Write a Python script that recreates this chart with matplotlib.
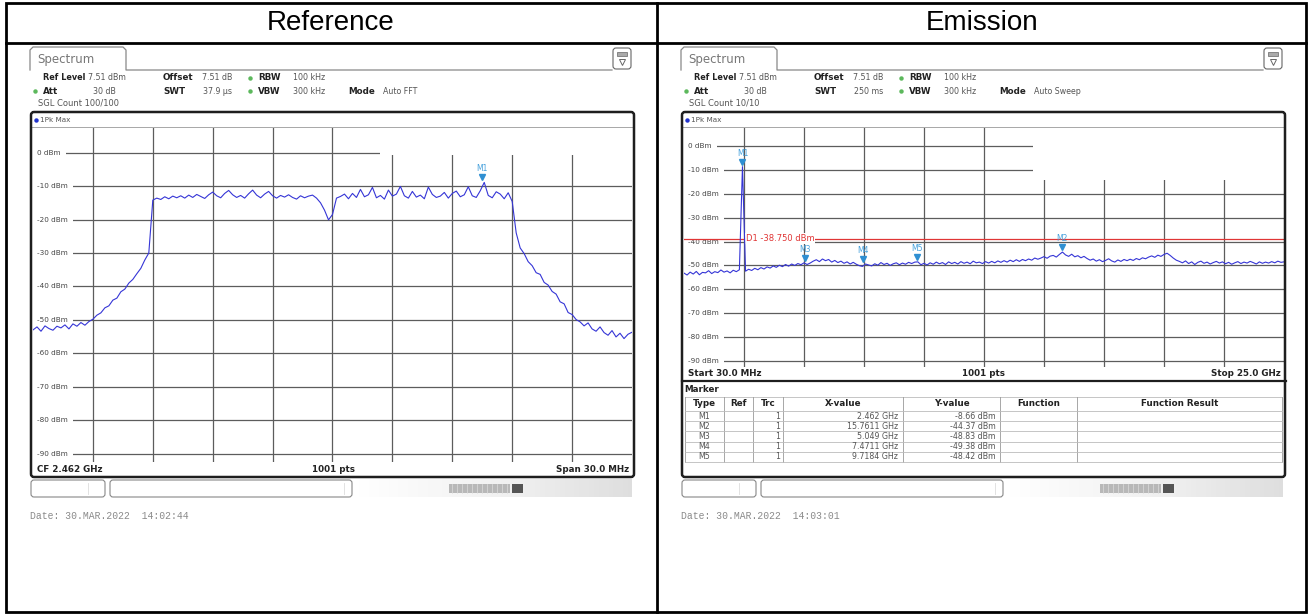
import numpy as np
import matplotlib.pyplot as plt
from matplotlib.patches import Rectangle, FancyBboxPatch
from matplotlib.transforms import offset_copy, blended_transform_factory

plt.rcParams['font.family'] = ['DejaVu Sans']

W, H = 1311, 615

ref_level = 7.51
grid_dbm = [0, -10, -20, -30, -40, -50, -60, -70, -80, -90]
grid_labels = ['0 dBm', '-10 dBm', '-20 dBm', '-30 dBm', '-40 dBm',
               '-50 dBm', '-60 dBm', '-70 dBm', '-80 dBm', '-90 dBm']

# left screen: CF 2.462 GHz, span 30 MHz (trace, -15..+15 MHz)
ref_cf_ghz = 2.462
ref_span_mhz = 30.0
ref_trace_dbm = [
    -53.0, -52.1, -53.4, -51.8, -52.6, -53.1, -51.9, -52.4, -51.5, -52.7, -51.2, -51.9, -50.8, -51.6, -50.5, -49.8,
    -48.6, -47.9, -46.4, -45.8, -44.1, -43.5, -41.6, -40.8, -39.0, -37.9, -36.2, -34.6, -32.1, -30.0,
    -14.2, -13.6, -14.0, -13.2, -13.8, -13.0, -13.5, -12.9, -13.6, -12.7, -13.4, -12.5, -13.1, -13.7, -12.6,
    -11.8, -12.9, -13.5, -12.2, -11.3, -12.6, -13.4, -12.8, -13.6, -12.3, -11.2, -12.7, -13.5, -12.4, -11.6,
    -12.9, -13.6, -12.8, -13.3, -12.6, -13.4, -13.9, -12.9, -13.5, -13.0, -12.7, -13.6, -15.0, -17.2, -20.1,
    -18.5, -13.6, -13.1, -12.4, -13.8, -12.2, -13.4, -11.0, -13.2, -12.6, -10.4, -13.5, -12.8, -13.9, -11.2,
    -13.0, -12.4, -10.1, -12.9, -13.6, -11.6, -13.3, -12.7, -13.8, -10.3, -12.5, -13.4, -13.0, -11.9, -13.6,
    -12.2, -11.5, -13.2, -12.6, -10.2, -12.9, -13.4, -11.4, -8.9, -12.8, -13.5, -11.7, -12.4, -13.8, -12.0, -14.6,
    -24.0, -28.5, -30.2, -32.6, -33.8, -35.9, -36.4, -38.8, -39.6, -41.5,
    -42.3, -44.6, -45.2, -47.8, -48.4, -49.9, -50.6, -51.8, -50.9, -52.7,
    -53.4, -52.1, -53.8, -54.6, -53.2, -55.1, -54.0, -55.6, -54.3, -53.7,
]
ref_marker_ghz = 2.4694930
ref_marker_dbm = -8.75

# right screen: 30 MHz .. 25 GHz
emi_start_ghz = 0.03
emi_stop_ghz = 25.0
emi_trace_dbm = [
    -53.2, -54.0, -52.8, -53.6, -52.5, -53.9, -52.9, -53.1, -52.2, -53.4, -52.6, -53.0, -51.9, -52.8, -52.3, -53.1, -52.0, -52.6, -51.8,
    -8.66,
    -52.4, -51.6, -52.1, -51.2, -51.8, -50.9, -51.5, -50.6, -51.1, -50.2, -50.8, -49.9, -50.5, -49.6, -50.3, -49.4, -50.0, -49.2, -49.7, -48.9,
    -49.6, -49.0, -48.2, -47.6, -48.4, -47.3, -48.0, -47.5, -48.6, -47.9, -48.8, -48.2, -49.1, -48.5, -49.4, -48.7, -49.5, -50.1,
    -50.4, -49.4, -49.8, -50.2, -49.3, -49.9, -48.8, -49.6, -49.1, -50.0, -49.3, -48.9, -49.7, -49.0, -49.5, -48.7, -49.2, -48.6,
    -48.5, -49.7, -49.1, -49.8, -48.9, -49.5, -48.6, -49.3, -48.8, -49.6, -48.5, -49.2, -48.7, -49.4, -48.4, -49.1, -48.6, -49.3, -48.2, -48.9,
    -48.6, -49.2, -48.4, -49.0, -48.3, -48.9, -48.1, -48.7, -48.0, -48.6, -47.8, -48.4, -47.6, -48.3, -47.5, -48.0, -47.3, -47.8, -46.9, -47.4,
    -46.9, -46.3, -47.0, -46.1, -45.8, -46.5, -45.4, -44.4, -45.6, -46.2, -45.3, -46.4, -45.9, -46.8, -46.2,
    -47.1, -47.8, -47.3, -48.2, -47.6, -48.4, -47.9, -47.2, -48.1, -48.6, -47.7, -48.3, -47.5, -48.0, -47.4, -47.9, -47.1, -47.6, -46.8, -47.2,
    -46.5, -46.0, -46.6, -45.7, -46.2, -45.4, -44.9, -45.8, -46.9, -47.8,
    -48.3, -48.9, -48.1, -49.2, -48.5, -49.6, -48.7, -48.2, -49.1, -48.6, -49.4, -48.8, -48.3, -49.0, -48.5, -49.3, -48.7, -49.5,
    -48.9, -48.4, -49.2, -48.6, -49.0, -48.3, -48.8, -49.4, -48.5, -49.1, -48.6, -49.0, -48.4, -48.9, -48.2, -48.7, -48.5,
]
marker_names = ['M1', 'M2', 'M3', 'M4', 'M5']
marker_ghz = [2.462, 15.7611, 5.049, 7.4711, 9.7184]
marker_dbm = [-8.66, -44.37, -48.83, -49.38, -48.42]
d1_dbm = -38.75

TRACE = '#3535d6'
MK = '#2f8fd2'
MKTXT = '#45a0dc'
GRID = '#5c5c5c'

fig = plt.figure(figsize=(W / 100, H / 100), dpi=100)
ax0 = fig.add_axes([0, 0, 1, 1])
ax0.set_xlim(0, W)
ax0.set_ylim(H, 0)
ax0.axis('off')

# outer table
ax0.add_patch(Rectangle((6, 3), 1300, 609, fill=False, ec='black', lw=2))
ax0.plot([6, 1306], [43, 43], color='black', lw=2)
ax0.plot([657, 657], [3, 612], color='black', lw=2)
ax0.text(331, 23, 'Reference', fontsize=20, ha='center', va='center', family='Liberation Sans')
ax0.text(982, 23, 'Emission', fontsize=20, ha='center', va='center', family='Liberation Sans')


def bold(x, y, s, size=6.3, **kw):
    ax0.text(x, y, s, fontsize=size, fontweight='bold', color='#222', va='center', **kw)


def val(x, y, s, **kw):
    ax0.text(x, y, s, fontsize=5.7, color='#555', va='center', **kw)


def dot(x, y, c='#5cb85c'):
    ax0.plot([x], [y], marker='o', ms=3.2, color=c, mec='none')


def chrome(ox, swt, mode, count, date):
    # tab + icon
    ax0.plot(np.array([30, 30, 33, 123, 126, 126, 612]) + ox, [70, 50, 47, 47, 50, 70, 70], color='#888', lw=0.9)
    ax0.text(37 + ox, 59, 'Spectrum', fontsize=8.5, color='#777', va='center')
    ax0.add_patch(FancyBboxPatch((613 + ox, 48), 18, 21, boxstyle='round,pad=0,rounding_size=3',
                                 fc='white', ec='#666', lw=0.8))
    ax0.add_patch(Rectangle((617 + ox, 52), 10, 4, fc='#aaa', ec='#666', lw=0.5))
    ax0.plot([622 + ox], [61.5], marker='v', ms=5, mfc='white', mec='#666', mew=0.7)
    # settings
    bold(43 + ox, 78, 'Ref Level', size=5.9)
    val(88 + ox, 78, '7.51 dBm')
    bold(163 + ox, 78, 'Offset')
    val(202 + ox, 78, '7.51 dB')
    dot(250 + ox, 78)
    bold(258 + ox, 78, 'RBW')
    val(293 + ox, 78, '100 kHz')
    dot(35 + ox, 91)
    bold(43 + ox, 91, 'Att')
    val(116 + ox, 91, '30 dB', ha='right')
    bold(163 + ox, 91, 'SWT')
    val(203 + ox, 91, swt)
    dot(250 + ox, 91)
    bold(258 + ox, 91, 'VBW')
    val(293 + ox, 91, '300 kHz')
    bold(348 + ox, 91, 'Mode')
    val(383 + ox, 91, mode)
    ax0.text(38 + ox, 103.5, count, fontsize=6, color='#555', va='center')
    ax0.plot([31 + ox, 634 + ox], [127, 127], color='#999', lw=0.6)
    dot(36 + ox, 119.5, '#2233cc')
    ax0.text(40 + ox, 119.5, '1Pk Max', fontsize=5.2, color='#555', va='center')
    # bottom bar
    ax0.add_patch(FancyBboxPatch((31 + ox, 480), 74, 17, boxstyle='round,pad=0,rounding_size=3',
                                 fc='white', ec='#888', lw=0.8))
    ax0.plot([88 + ox, 88 + ox], [483, 494], color='#ddd', lw=0.6)
    ax0.add_patch(FancyBboxPatch((110 + ox, 480), 242, 17, boxstyle='round,pad=0,rounding_size=3',
                                 fc='white', ec='#888', lw=0.8))
    ax0.plot([344 + ox, 344 + ox], [483, 494], color='#ddd', lw=0.6)
    ax0.imshow(np.linspace(0.0, 0.22, 60)[None, :], extent=(352 + ox, 632 + ox, 497, 479), cmap='Greys',
               vmin=0, vmax=1, aspect='auto', interpolation='bilinear')
    ax0.add_patch(Rectangle((449 + ox, 484), 61, 9, fc='#b8b8b8', ec='none'))
    for k in range(12):
        ax0.plot([452 + ox + 5 * k] * 2, [484, 493], color='#ddd', lw=0.5)
    ax0.add_patch(Rectangle((512 + ox, 484), 11, 9, fc='#555', ec='none'))
    ax0.text(30 + ox, 516, date, fontsize=7, color='#8a8a8a', va='center', family='Liberation Mono')


chrome(0, '37.9 µs', 'Auto FFT', 'SGL Count 100/100', 'Date: 30.MAR.2022  14:02:44')
chrome(651, '250 ms', 'Auto Sweep', 'SGL Count 10/10', 'Date: 30.MAR.2022  14:03:01')
ax0.set_xlim(0, W)
ax0.set_ylim(H, 0)


def screen_axes(x0, y0, x1, y1, xmin, xmax, box_x, box_y):
    ax = fig.add_axes([x0 / W, 1 - y1 / H, (x1 - x0) / W, (y1 - y0) / H])
    ax.set_xlim(xmin, xmax)
    ax.set_ylim(ref_level - 100, ref_level)
    ax.axis('off')
    for k in range(1, 10):
        ax.axvline(xmin + (xmax - xmin) * k / 10, color=GRID, lw=0.9, zorder=1)
    for lev, lab in zip(grid_dbm, grid_labels):
        ax.axhline(lev, color=GRID, lw=0.9, zorder=1)
        ax.text(0.007, lev, lab, transform=ax.get_yaxis_transform(), fontsize=5.2, color='#444',
                va='center', ha='left', zorder=2,
                bbox=dict(fc='white', ec='none', boxstyle='square,pad=0.75'))
    # marker info field covers part of the grid
    ax.add_patch(Rectangle((box_x, box_y), 1 - box_x, 1 - box_y, transform=ax.transAxes,
                           fc='white', ec='none', zorder=1.5))
    return ax


def marker(ax, name, x, y):
    tr = offset_copy(ax.transData, fig=fig, x=0, y=3.5, units='points')
    ax.plot([x], [y], marker='v', ms=4.5, color=MK, transform=tr, zorder=4, clip_on=False)
    ax.annotate(name, (x, y), xytext=(0, 6.5), textcoords='offset points', ha='center', va='bottom',
                fontsize=5.5, color=MKTXT, zorder=4)


# left screen
ax_l = screen_axes(33, 127.5, 632, 462, ref_cf_ghz - ref_span_mhz / 2000, ref_cf_ghz + ref_span_mhz / 2000,
                   0.579, 0.918)
ref_x = ref_cf_ghz + np.linspace(-ref_span_mhz / 2, ref_span_mhz / 2, len(ref_trace_dbm)) / 1000
ax_l.plot(ref_x, ref_trace_dbm, color=TRACE, lw=0.8, zorder=3)
marker(ax_l, 'M1', ref_marker_ghz, ref_marker_dbm)

ax0.text(380, 136, 'M1[1]', fontsize=7, color=MKTXT, va='center')
ax0.text(631, 135, f'{ref_marker_dbm:.2f} dBm', fontsize=7, color=MKTXT, va='center', ha='right')
ax0.text(631, 146, f'{ref_marker_ghz:.7f} GHz', fontsize=7, color=MKTXT, va='center', ha='right')
bold(37, 469, 'CF 2.462 GHz')
bold(333, 469, '1001 pts', ha='center')
bold(629, 469, 'Span 30.0 MHz', ha='right')

# right screen
ax_r = screen_axes(684, 128, 1284, 367, emi_start_ghz, emi_stop_ghz, 0.582, 0.782)
emi_x = np.linspace(emi_start_ghz, emi_stop_ghz, len(emi_trace_dbm))
ax_r.axhline(d1_dbm, color='#e03535', lw=0.9, zorder=2.5)
ax_r.text(0.103, d1_dbm, f'D1 {d1_dbm:.3f} dBm', transform=blended_transform_factory(ax_r.transAxes, ax_r.transData),
          fontsize=6, color='#e03535', va='center', zorder=2.6,
          bbox=dict(fc='white', ec='none', boxstyle='square,pad=0.1'))
ax_r.plot(emi_x, emi_trace_dbm, color=TRACE, lw=0.8, zorder=3)
for name, x, y in zip(marker_names, marker_ghz, marker_dbm):
    marker(ax_r, name, x, y)

ax0.text(1033, 135, 'M1[1]', fontsize=7, color=MKTXT, va='center')
ax0.text(1033, 155, 'M2[1]', fontsize=7, color=MKTXT, va='center')
ax0.text(1283, 135, f'{marker_dbm[0]:.2f} dBm', fontsize=7, color=MKTXT, va='center', ha='right')
ax0.text(1283, 145, f'{marker_ghz[0]:.4f} GHz', fontsize=7, color=MKTXT, va='center', ha='right')
ax0.text(1283, 155, f'{marker_dbm[1]:.2f} dBm', fontsize=7, color=MKTXT, va='center', ha='right')
ax0.text(1283, 165, f'{marker_ghz[1]:.4f} GHz', fontsize=7, color=MKTXT, va='center', ha='right')
bold(688, 374, 'Start 30.0 MHz')
bold(984, 374, '1001 pts', ha='center')
bold(1281, 374, 'Stop 25.0 GHz', ha='right')

# marker table
bold(684, 389, 'Marker')
cols = [685, 724, 753, 783, 903, 1000, 1077, 1282]
heads = ['Type', 'Ref', 'Trc', 'X-value', 'Y-value', 'Function', 'Function Result']
row_top = 411
row_h = 10.2
ax0.plot([685, 1282], [397, 397], color='#bbb', lw=0.6)
for c in cols:
    ax0.plot([c, c], [397, row_top + row_h * len(marker_names)], color='#999', lw=0.6)
for i, h in enumerate(heads):
    bold((cols[i] + cols[i + 1]) / 2, 404, h, ha='center')
for i, (name, x, y) in enumerate(zip(marker_names, marker_ghz, marker_dbm)):
    yy = row_top + row_h * i
    ax0.plot([685, 1282], [yy, yy], color='#bbb', lw=0.6)
    val(704, yy + row_h / 2, name, ha='center')
    val(780, yy + row_h / 2, '1', ha='right')
    val(898, yy + row_h / 2, f'{x:g} GHz', ha='right')
    val(996, yy + row_h / 2, f'{y:.2f} dBm', ha='right')
ax0.plot([685, 1282], [row_top + row_h * 5] * 2, color='#bbb', lw=0.6)

# screen frames drawn last so the label boxes do not cut them
ax_top = fig.add_axes([0, 0, 1, 1])
ax_top.set_xlim(0, W)
ax_top.set_ylim(H, 0)
ax_top.axis('off')
for ox in (0, 651):
    ax_top.add_patch(FancyBboxPatch((31 + ox, 112), 603, 365, boxstyle='round,pad=0,rounding_size=3',
                                    fill=False, ec='#1e1e1e', lw=1.8))
ax_top.plot([682, 1286], [381, 381], color='#1e1e1e', lw=1.6)

fig.savefig('out.png', dpi=100)
